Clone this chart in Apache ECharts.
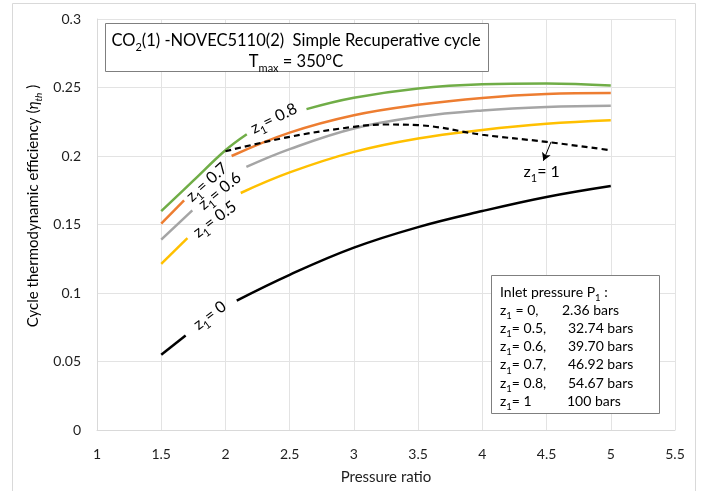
<!DOCTYPE html>
<html><head><meta charset="utf-8">
<script src="https://cdn.jsdelivr.net/npm/echarts@6/dist/echarts.min.js"></script>
<style>html,body{margin:0;padding:0;background:#fff}#c{width:702px;height:491px}</style>
</head><body><div id="c"></div>
<script>
// ---- data (x = pressure ratio, y = cycle thermodynamic efficiency) ----
const z0a  = [[1.5,0.055],[1.69,0.069]];
const z0b  = [[2.088,0.0945],[2.5,0.1133],[3,0.1331],[3.5,0.1481],[4,0.1598],[4.5,0.1701],[5,0.1781]];
const z05a = [[1.5,0.1213],[1.704,0.140]];
const z05b = [[2.119,0.173],[2.5,0.188],[3,0.203],[3.5,0.2128],[4,0.219],[4.5,0.2235],[5,0.2261]];
const z06a = [[1.5,0.1389],[1.742,0.1603]];
const z06b = [[2.163,0.192],[2.5,0.205],[3,0.2201],[3.5,0.2286],[4,0.2333],[4.5,0.2358],[5,0.2366]];
const z07a = [[1.5,0.1506],[1.678,0.1676]];
const z07b = [[2.048,0.2],[2.5,0.2171],[3,0.2298],[3.5,0.2374],[4,0.2424],[4.5,0.2452],[5,0.2459]];
const z08a = [[1.5,0.1598],[1.75,0.182],[2,0.2042],[2.166,0.2159]];
const z08b = [[2.631,0.2342],[3,0.2425],[3.5,0.2493],[4,0.2524],[4.5,0.253],[5,0.2515]];
const z1   = [[2,0.2035],[2.5,0.214],[3,0.2213],[3.25,0.223],[3.5,0.2225],[4,0.2155],[4.5,0.2103],[5,0.2042]];
const arrowFrom = [4.535,0.2103], arrowTo = [4.475,0.1965];
// curve labels: [text before sub, sub, text after, x, y, rotation deg]
const curveLabels = [
  ['z','1','= 0.8', 2.377,0.2274, 26],
  ['z','1','= 0.7', 1.855,0.1809, 42],
  ['z','1','= 0.6', 1.956,0.1745, 39],
  ['z','1','= 0.5', 1.917,0.1538, 37],
  ['z','1','= 0',   1.878,0.0836, 37],
  ['z','1','= 1',   4.462,0.1883, 0]
];
const legendRows = [
  ['Inlet pressure P','1',' :',''],
  ['z','1',' = 0,','2.36 bars'],
  ['z','1','= 0.5,','32.74 bars'],
  ['z','1','= 0.6,','39.70 bars'],
  ['z','1','= 0.7,','46.92 bars'],
  ['z','1','= 0.8,','54.67 bars'],
  ['z','1','= 1','100 bars']
];
const xMin = 1, xMax = 5.5, xStep = 0.5;
const yMin = 0, yMax = 0.3, yStep = 0.05;

const FONT = 'Lato, "Noto Sans", sans-serif';
const TXT = '#1e1e1e';
const C = {green:'#70AD47', orange:'#ED7D31', gray:'#A5A5A5', yellow:'#FFC000', black:'#000000'};

function seg(data, color, extra) {
  return Object.assign({type:'line', data:data, showSymbol:false, symbol:'none', smooth:0.4,
    lineStyle:{color:color, width:2.5}, z:3, silent:true}, extra||{});
}
function rich(fs, subfs) {
  return {
    n:{fontSize:fs, fontFamily:FONT, color:TXT, lineHeight:fs+6, verticalAlign:'middle'},
    s:{fontSize:subfs, fontFamily:FONT, color:TXT, verticalAlign:'bottom', height:subfs-1},
    i:{fontSize:fs, fontFamily:FONT, color:TXT, fontStyle:'italic', lineHeight:fs+6, verticalAlign:'middle'},
    is:{fontSize:subfs, fontFamily:FONT, color:TXT, fontStyle:'italic', verticalAlign:'bottom', height:subfs-1}
  };
}

const chart = echarts.init(document.getElementById('c'), null, {renderer:'canvas'});
const option = {
  animation:false,
  backgroundColor:'#fff',
  grid:{left:97, right:27, top:19, bottom:61},
  xAxis:{type:'value', min:xMin, max:xMax, interval:xStep,
    name:'Pressure ratio', nameLocation:'middle', nameGap:40,
    nameTextStyle:{fontFamily:FONT, fontSize:15, color:TXT},
    axisLine:{show:true, lineStyle:{color:'#d9d9d9', width:1}},
    axisTick:{show:false},
    axisLabel:{fontFamily:FONT, fontSize:14, color:TXT, margin:17},
    splitLine:{show:true, lineStyle:{color:'#e3e3e3', width:1}}},
  yAxis:{type:'value', min:yMin, max:yMax, interval:yStep,
    axisLine:{show:true, lineStyle:{color:'#d9d9d9', width:1}},
    axisTick:{show:false},
    axisLabel:{fontFamily:FONT, fontSize:14, color:TXT, margin:16},
    splitLine:{show:true, lineStyle:{color:'#e3e3e3', width:1}}},
  series:[
    seg(z0a, C.black), seg(z0b, C.black),
    seg(z05a, C.yellow), seg(z05b, C.yellow),
    seg(z06a, C.gray), seg(z06b, C.gray),
    seg(z07a, C.orange), seg(z07b, C.orange),
    seg(z08a, C.green), seg(z08b, C.green),
    seg(z1, C.black, {lineStyle:{color:C.black, width:2.2, type:[6,4]}, z:4,
      markLine:{silent:true, symbol:['none','arrow'], symbolSize:[7,8], animation:false,
        lineStyle:{color:'#000', width:1, type:'solid'}, label:{show:false},
        data:[[{coord:arrowFrom},{coord:arrowTo}]]}})
  ]
};
chart.setOption(option);

const graphics = [];
// outer chart frame
graphics.push({type:'rect', shape:{x:12.5, y:3.5, width:683, height:500}, style:{fill:null, stroke:'#d9d9d9', lineWidth:1}, silent:true, z:0});
// y-axis name
graphics.push({type:'text', x:33, y:206, rotation:Math.PI/2,
  style:{text:'{n|Cycle thermodynamic efficiency (}{i|η}{is|th}{n| )}', rich:rich(15,10), align:'center', verticalAlign:'middle'}, silent:true, z:10});
// title box
graphics.push({type:'rect', shape:{x:105.5, y:23.5, width:383, height:48}, style:{fill:'#fff', stroke:'#7f7f7f', lineWidth:1}, silent:true, z:10});
graphics.push({type:'text', x:296, y:41,
  style:{text:'{n|CO}{s|2}{n|(1) -NOVEC5110(2)  Simple Recuperative cycle}', rich:rich(16.5,11), align:'center', verticalAlign:'middle'}, silent:true, z:11});
graphics.push({type:'text', x:296, y:62,
  style:{text:'{n|T}{s|max}{n| = 350°C}', rich:rich(16.5,11), align:'center', verticalAlign:'middle'}, silent:true, z:11});
// legend box
graphics.push({type:'rect', shape:{x:491.5, y:275.5, width:168, height:138}, style:{fill:'#fff', stroke:'#7f7f7f', lineWidth:1}, silent:true, z:10});
legendRows.forEach(function(r, k){
  const y = 292 + k*18.2;
  graphics.push({type:'text', x:500, y:y,
    style:{text:'{n|'+r[0]+'}{s|'+r[1]+'}{n|'+r[2]+'}', rich:rich(14,9.5), align:'left', verticalAlign:'middle'}, silent:true, z:11});
  if (r[3]) {
    const x2 = (k === 1) ? 562 : (k === 6 ? 567 : 568);
    graphics.push({type:'text', x:x2, y:y,
      style:{text:'{n|'+r[3]+'}', rich:rich(14,9.5), align:'left', verticalAlign:'middle'}, silent:true, z:11});
  }
});
// curve labels placed through the axes
curveLabels.forEach(function(l){
  const p = chart.convertToPixel({gridIndex:0}, [l[3], l[4]]);
  graphics.push({type:'text', x:p[0], y:p[1], rotation:l[5]*Math.PI/180,
    style:{text:'{n|'+l[0]+'}{s|'+l[1]+'}{n|'+l[2]+'}', rich:rich(16,11), align:'center', verticalAlign:'middle'}, silent:true, z:11});
});
chart.setOption({graphic:graphics});
</script>
</body></html>
